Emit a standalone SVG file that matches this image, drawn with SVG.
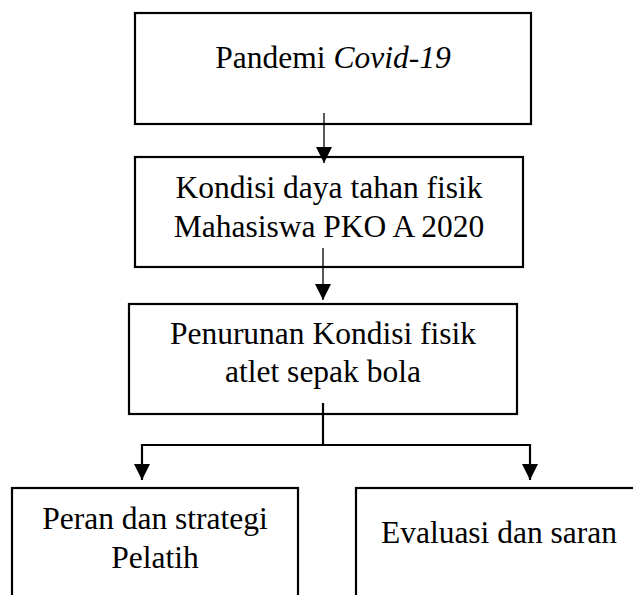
<svg xmlns="http://www.w3.org/2000/svg" width="633" height="595" viewBox="0 0 633 595">
<style>
.box{fill:#fff;stroke:#000;stroke-width:2.2}
.t{font-family:"Liberation Serif","Times New Roman",serif;font-size:31.5px;fill:#000;text-anchor:middle}
.c{fill:none;stroke:#000}
</style>
<defs>
<marker id="ah" markerUnits="userSpaceOnUse" markerWidth="16" markerHeight="16" refX="16" refY="8" orient="auto">
<path d="M0,0 L16,8 L0,16 z" fill="#000"/>
</marker>
</defs>
<rect width="633" height="595" fill="#fff"/>
<g id="n1">
<rect class="box" x="135" y="13" width="396" height="111"/>
<text class="t" x="333" y="68">Pandemi <tspan font-style="italic">Covid-19</tspan></text>
</g>
<g id="n2">
<rect class="box" x="135" y="157" width="388" height="110"/>
<text class="t" x="329" y="198">Kondisi daya tahan fisik</text>
<text class="t" x="329" y="237">Mahasiswa PKO A 2020</text>
</g>
<g id="n3">
<rect class="box" x="129" y="304" width="388" height="110"/>
<text class="t" x="323" y="344">Penurunan Kondisi fisik</text>
<text class="t" x="323" y="382">atlet sepak bola</text>
</g>
<g id="n4">
<rect class="box" x="12" y="488" width="286" height="120"/>
<text class="t" x="155" y="529">Peran dan strategi</text>
<text class="t" x="155" y="568">Pelatih</text>
</g>
<g id="n5">
<rect class="box" x="356" y="488" width="290" height="120"/>
<text class="t" x="499" y="543">Evaluasi dan saran</text>
</g>
<g id="connectors">
<path class="c" stroke-width="1.3" d="M324,113 V163" marker-end="url(#ah)"/>
<path class="c" stroke-width="1.3" d="M323,248 V300" marker-end="url(#ah)"/>
<path class="c" stroke-width="2.2" d="M323,403 V445"/>
<path class="c" stroke-width="2.2" d="M323,445 H142 V480" marker-end="url(#ah)"/>
<path class="c" stroke-width="2.2" d="M323,445 H530 V480" marker-end="url(#ah)"/>
</g>
</svg>
